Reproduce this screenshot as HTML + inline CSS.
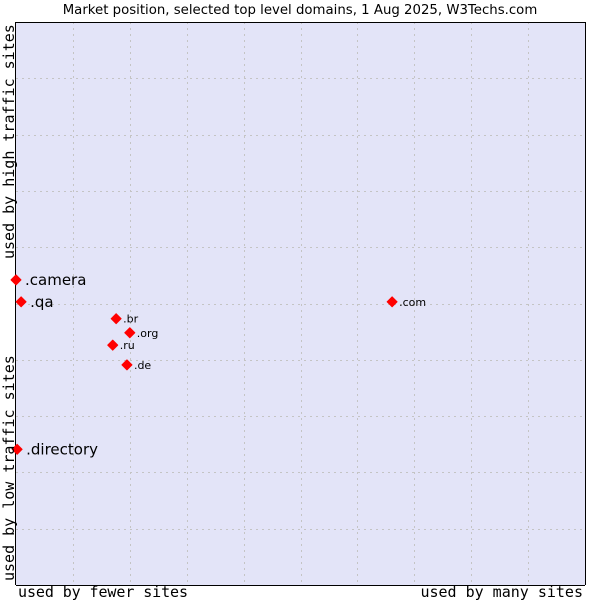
<!DOCTYPE html>
<html><head><meta charset="utf-8"><style>
body{margin:0;background:#fff;width:600px;height:600px;overflow:hidden}
svg{display:block}
</style></head><body>
<svg id="chart" width="600" height="600">
<text x="300" y="14" text-anchor="middle" font-family="DejaVu Sans, sans-serif" font-size="13.3" fill="#000">Market position, selected top level domains, 1 Aug 2025, W3Techs.com</text>
<rect x="16" y="22" width="569" height="563" fill="#e3e4f8"/>
<g id="grid"></g>
<line x1="15.5" y1="22" x2="15.5" y2="585" stroke="#000"/>
<line x1="16" y1="585.5" x2="585" y2="585.5" stroke="#000"/>
<line x1="16" y1="22.5" x2="585" y2="22.5" stroke="#000"/>
<line x1="585.5" y1="22" x2="585.5" y2="585" stroke="#000"/>
<g id="points"></g>
<text x="18" y="597" font-family="DejaVu Sans Mono, monospace" font-size="15" textLength="170">used by fewer sites</text>
<text x="583" y="597" text-anchor="end" font-family="DejaVu Sans Mono, monospace" font-size="15">used by many sites</text>
<text transform="translate(14,581) rotate(-90)" font-family="DejaVu Sans Mono, monospace" font-size="15">used by low traffic sites</text>
<text transform="translate(14,259) rotate(-90)" font-family="DejaVu Sans Mono, monospace" font-size="15">used by high traffic sites</text>
</svg>
<script>
const domains=[".camera",".qa",".br",".org",".ru",".de",".com",".directory"];
const usageX=[0,0.9,17.6,20.0,17.0,19.5,66.1,0.2];
const trafficY=[54.2,50.3,47.3,44.8,42.6,39.1,50.3,24.1];
const bigLabel=[true,true,false,false,false,false,false,true];
const L=16,R=585,T=22,B=585;
const xs=v=>L+v/100*(R-L);
const ys=v=>B-v/100*(B-T);
const ns="http://www.w3.org/2000/svg";
const grid=document.getElementById('grid');
for(let i=1;i<10;i++){
  const gx=Math.round(xs(i*10))+0.5, gy=Math.round(ys(i*10))+0.5;
  const a=document.createElementNS(ns,'line');
  a.setAttribute('x1',gx);a.setAttribute('x2',gx);a.setAttribute('y1',T);a.setAttribute('y2',B);
  a.setAttribute('stroke','#c4c4c4');a.setAttribute('stroke-dasharray','2,4');
  
  
  grid.appendChild(a);
  const b=document.createElementNS(ns,'line');
  b.setAttribute('y1',gy);b.setAttribute('y2',gy);b.setAttribute('x1',L);b.setAttribute('x2',R);
  b.setAttribute('stroke','#c4c4c4');b.setAttribute('stroke-dasharray','2,4');
  
  
  grid.appendChild(b);
}
const pts=document.getElementById('points');
domains.forEach((d,i)=>{
  const x=xs(usageX[i]),y=ys(trafficY[i]);
  const p=document.createElementNS(ns,'polygon');
  p.setAttribute('points',`${x},${y-5} ${x+5},${y} ${x},${y+5} ${x-5},${y}`);
  p.setAttribute('fill','#ff0000');
  p.setAttribute('stroke','#ff0000');
  p.setAttribute('stroke-width','1');
  p.setAttribute('stroke-linejoin','round');
  
  
  pts.appendChild(p);
  const t=document.createElementNS(ns,'text');
  t.setAttribute('x',x+(bigLabel[i]?9:7));
  t.setAttribute('y',y+(bigLabel[i]?5:4));
  t.setAttribute('font-family','DejaVu Sans, sans-serif');
  t.setAttribute('font-size',bigLabel[i]?15:11);
  t.textContent=d;
  
  
  pts.appendChild(t);
});
</script>
</body></html>
